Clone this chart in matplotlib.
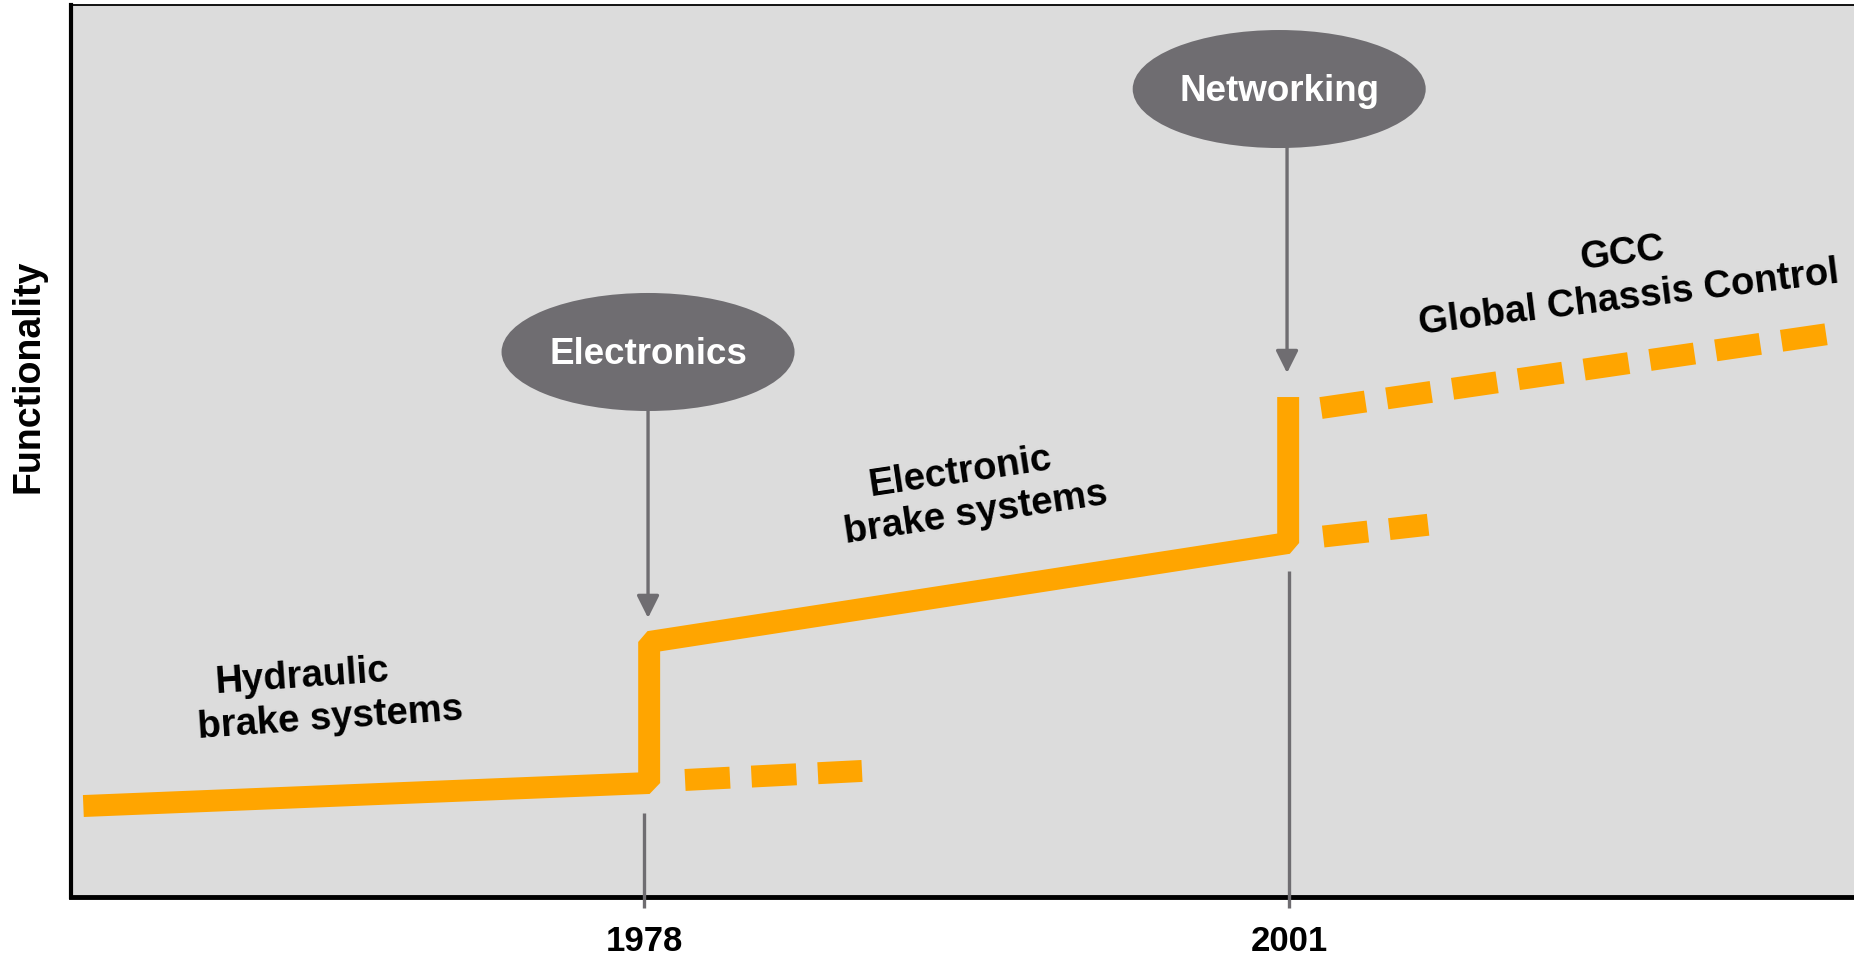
import matplotlib
matplotlib.use("Agg")
import matplotlib.pyplot as plt
from matplotlib.patches import Ellipse

# ---- data (x = year, y = functionality, arbitrary units 0..100) ----
solid_x = [1958.0, 1978.18, 1978.18, 2000.97, 2000.97]
solid_y = [10.2, 12.78, 28.59, 39.69, 56.05]

# dashed continuations (the "what if" paths)
hyd_dash_x = [1979.46, 1985.77]
hyd_dash_y = [13.12, 14.13]
ebs_dash_x = [2002.22, 2005.96]
ebs_dash_y = [40.41, 41.73]
gcc_dash_x = [2002.14, 2020.23]
gcc_dash_y = [54.82, 63.12]

milestone_years = [1978, 2001]
milestone_labels = ["1978", "2001"]
milestone_line_top = [9.42, 36.55]

bubbles = ["Electronics", "Networking"]
bubble_x = [1978.14, 2000.65]
bubble_y = [61.1, 90.58]
arrow_x = [1978.14, 2000.93]
arrow_from = [54.48, 84.08]
arrow_to = [31.28, 58.74]

ORANGE = "#ffa500"
GRAY = "#6f6d71"
BG = "#dcdcdc"
LW = 15.8   # ~22 px

plt.rcParams['font.family'] = ['Liberation Sans', 'DejaVu Sans']

fig = plt.figure(figsize=(18.54, 9.57), dpi=100)
ax = fig.add_axes([71 / 1854, 60 / 957, 1 - 71 / 1854, 892 / 957])
ax.set_facecolor(BG)
ax.set_xlim(1957.56, 2021.15)
ax.set_ylim(0, 100)

# main path
ax.plot(solid_x, solid_y, color=ORANGE, lw=LW,
        solid_joinstyle='bevel', solid_capstyle='butt')
for xs, ys in [(hyd_dash_x, hyd_dash_y), (ebs_dash_x, ebs_dash_y), (gcc_dash_x, gcc_dash_y)]:
    ax.plot(xs, ys, color=ORANGE, lw=LW, dashes=(2.05, 0.98),
            dash_capstyle='butt')

# milestone markers under the steps
ax.vlines(milestone_years, -1.23, milestone_line_top, color=GRAY, lw=2.4,
          clip_on=False, zorder=5)

# bubbles with arrows
for name, bx, by, axx, a0, a1 in zip(bubbles, bubble_x, bubble_y, arrow_x, arrow_from, arrow_to):
    ax.add_patch(Ellipse((bx, by), 10.45, 13.23, facecolor=GRAY, edgecolor='none'))
    ax.text(bx, by - 0.3, name, color='white', fontsize=26.5, fontweight='bold',
            ha='center', va='center')
    ax.annotate('', xy=(axx, a1), xytext=(axx, a0),
                arrowprops=dict(arrowstyle='-|>', color=GRAY, lw=2.4,
                                mutation_scale=34, shrinkA=0, shrinkB=0))

# era labels
labels = [
    ("Hydraulic", 1965.80, 24.66, 4),
    ("brake systems", 1966.80, 19.96, 4),
    ("Electronic", 1989.27, 47.65, 8.5),
    ("brake systems", 1989.84, 42.94, 8.5),
    ("GCC", 2012.88, 72.09, 7),
    ("Global Chassis Control", 2013.13, 67.15, 7),
]
for txt, tx, ty, rot in labels:
    ax.text(tx, ty, txt, fontsize=27.5, fontweight='bold', ha='center', va='center',
            rotation=rot, rotation_mode='anchor')

# axes styling
ax.set_xticks(milestone_years)
ax.set_xticklabels(milestone_labels, fontsize=25, fontweight='bold')
ax.tick_params(axis='x', length=0, pad=20)
ax.set_yticks([])
ax.set_ylabel("Functionality", fontsize=27, fontweight='bold')
ax.yaxis.set_label_coords(-0.0135, 0.584)
ax.spines['right'].set_visible(False)
ax.spines['left'].set_linewidth(3)
ax.spines['bottom'].set_linewidth(3.5)
ax.spines['top'].set_linewidth(1.3)

fig.savefig("out.png", dpi=100, facecolor='white')
